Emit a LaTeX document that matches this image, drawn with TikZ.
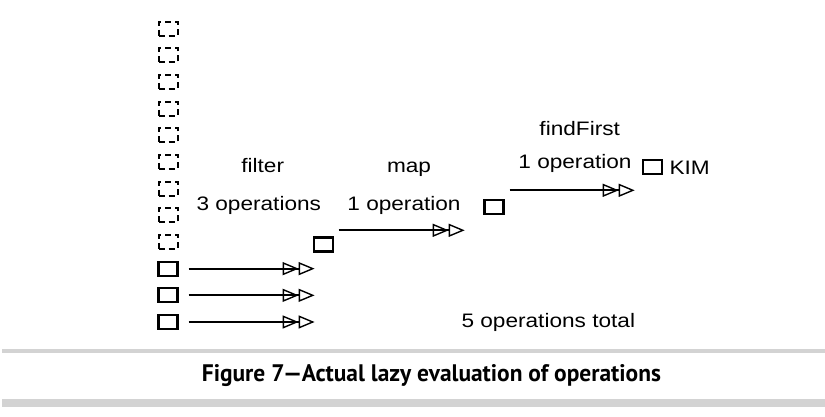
\documentclass[tikz,border=0pt]{standalone}
\usepackage{fontspec}
\setmainfont{Liberation Sans}
\newfontfamily\capfont{PT Sans}
\usetikzlibrary{arrows.meta,positioning}
\definecolor{rulegray}{RGB}{211,211,211}
\tikzset{
  elem/.style={draw, line width=2.2pt, minimum width=19pt, minimum height=14pt, inner sep=0pt},
  lazyelem/.style={elem, line width=2pt, dash pattern=on 6pt off 4pt},
  oplabel/.style={anchor=base, inner sep=0pt, font=\fontsize{19.5}{22}\selectfont},
  pipe/.style={line width=2.2pt,
    -{Triangle[open,length=16pt,width=13pt,line width=1.4pt,sep=0pt]Triangle[open,length=16pt,width=13pt,line width=1.4pt]}},
}
\newcommand{\wide}[1]{\scalebox{1.16}[1]{#1}}
\begin{document}
\begin{tikzpicture}[x=1pt,y=-1pt]
  \useasboundingbox (0,0) rectangle (825,417);
  % elements of the stream
  \foreach \i in {1,2,3}
    \node[elem] (s\i) at (168,{322-26.67*(\i-1)}) {};
  \foreach \i in {4,...,12}
    \node[lazyelem] (s\i) at (168,{322-26.67*(\i-1)}) {};
  \foreach \i in {1,2,3}{
    \coordinate (e\i) at ([xshift=136pt]s\i.east);
    \draw[pipe] ([xshift=10pt]s\i.east) -- (e\i);
  }
  % filter
  \node[oplabel] (filt) at (262.7,172.8) {\wide{filter}};
  \node[oplabel] (filtn) at (258.8,210.7) {\wide{3 operations}};
  \node[elem] (fout) at (323.5,244.5) {};
  % map
  \node[oplabel] (map) at (409,172.3) {\wide{map}};
  \node[oplabel] (mapn) at (404,211) {\wide{1 operation}};
  \coordinate (mend) at ([shift={(130.6pt,6.1pt)}]fout.north east);
  \draw[pipe] ([shift={(4.6pt,6.1pt)}]fout.north east) -- (mend);
  \node[elem] (mout) at (494,207) {};
  % findFirst
  \node[oplabel] (ff) at (579.7,136) {\wide{findFirst}};
  \node[oplabel] (ffn) at (575,168.3) {\wide{1 operation}};
  \coordinate (ffend) at ([shift={(130.1pt,8.6pt)}]mout.north east);
  \draw[pipe] ([shift={(5.1pt,8.6pt)}]mout.north east) -- (ffend);
  \node[elem] (res) at (652.5,167) {};
  \node[oplabel, anchor=base west] (kim) at (669.3,175) {\wide{KIM}};
  \node[oplabel] (total) at (548.3,327.7) {\wide{5 operations total}};
  % caption
  \fill[rulegray] (2,349) rectangle (825,353);
  \fill[rulegray] (2,399) rectangle (825,407);
  \node[anchor=base, inner sep=0pt] (cap) at (431.4,381.7)
    {\resizebox{459pt}{17pt}{\capfont\bfseries Figure 7—Actual lazy evaluation of operations}};
\end{tikzpicture}
\end{document}
